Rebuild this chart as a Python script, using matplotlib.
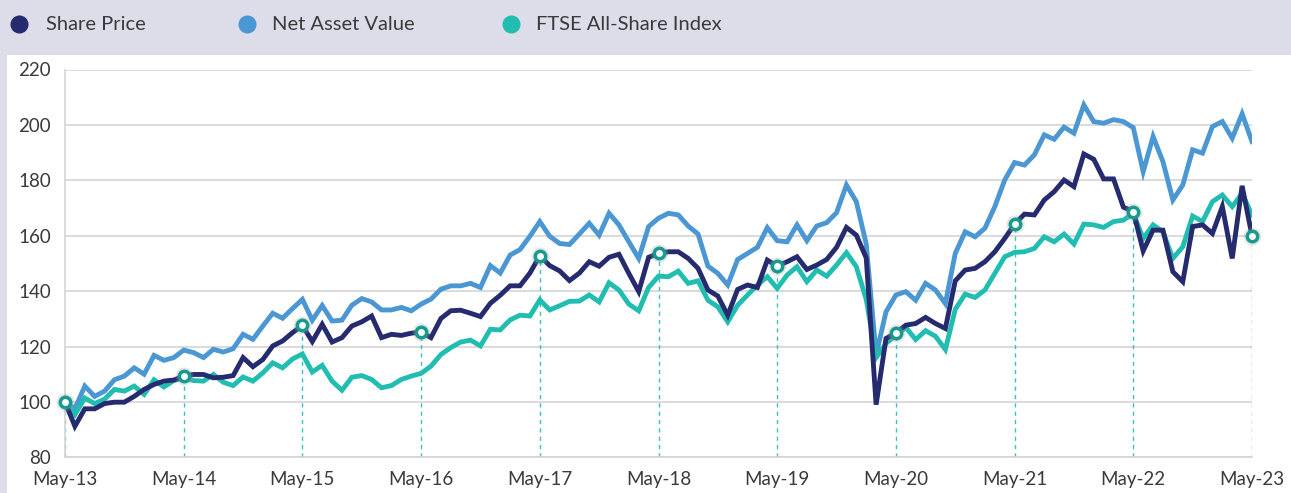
import numpy as np
import matplotlib.pyplot as plt
from matplotlib.patches import Rectangle

plt.rcParams['font.family'] = ['Lato', 'DejaVu Sans']

# monthly points, May-13 .. May-23 (rebased to 100)
months = np.arange(121)
tick_labels = ['May-13', 'May-14', 'May-15', 'May-16', 'May-17', 'May-18',
               'May-19', 'May-20', 'May-21', 'May-22', 'May-23']

share_price = [100, 91.2, 97.5, 97.5, 99.4, 99.9, 99.9, 102, 104.5, 106.3, 107.5, 107.9,
               109.3, 109.9, 109.9, 108.7, 108.9, 109.5, 116, 112.7, 115.3, 120.2, 122, 125,
               127.6, 121.8, 128, 121.6, 123.2, 127.4, 128.9, 131, 123.2, 124.4, 124, 124.8,
               125.2, 123.2, 130.1, 132.9, 133.1, 132, 130.8, 135.6, 138.5, 141.9, 141.9, 146.5,
               152.8, 149.2, 147.3, 143.8, 146.5, 150.6, 149, 152.2, 153.3, 146.4, 139.8, 152.2,
               153.6, 154.2, 154.2, 151.8, 148.2, 140.4, 138.2, 131.3, 140.6, 142.2, 141.3, 151.2,
               149, 150.6, 152.4, 147.8, 149.4, 151.4, 155.8, 163, 160.2, 152, 99, 122.9,
               124.9, 127.7, 128.3, 130.5, 128.3, 126.5, 143.7, 147.6, 148.2, 150.6, 154.2, 159,
               164.2, 167.8, 167.5, 172.9, 175.9, 180.1, 177.7, 189.5, 187.6, 180.5, 180.5, 170.3,
               168.7, 154.5, 162, 162, 147, 143.4, 163.3, 163.9, 160.8, 170.5, 151.8, 178,
               159.9]

nav = [100, 97.5, 105.7, 102, 103.9, 108, 109.3, 112.3, 110, 116.8, 115, 116,
       118.7, 117.8, 116, 119, 118, 119.2, 124.4, 122.6, 127.4, 132, 130.2, 133.7,
       137, 129.5, 134.8, 129.2, 129.5, 134.9, 137.3, 136.1, 133.2, 133.2, 134.1, 132.9,
       135.3, 137.1, 140.7, 141.9, 141.9, 142.8, 141.3, 149.2, 146.5, 153, 155, 159.8,
       165.1, 159.8, 157.2, 156.8, 160.6, 164.5, 160.2, 168.1, 163.9, 157.8, 151.8, 163.3,
       166.3, 168.1, 167.5, 163.5, 160.6, 149, 146.4, 142.2, 151.4, 153.6, 155.8, 162.9,
       158.2, 157.8, 163.9, 158.2, 163.5, 164.7, 168.3, 178.3, 172.3, 157, 117, 132.5,
       138.6, 139.8, 136.7, 142.8, 140.4, 135.5, 153.6, 161.4, 159.6, 162.7, 170.5, 180.1,
       186.4, 185.5, 189.2, 196.4, 194.8, 199.2, 197, 207.2, 201.2, 200.6, 201.9, 201.2,
       199, 183.1, 195.8, 186.7, 172.9, 178.3, 191, 189.8, 199.4, 201.2, 195.2, 204,
       194]

ftse = [100, 95.4, 101.4, 99.4, 101, 104.5, 103.9, 105.7, 102.7, 108, 105.4, 107.7,
        108.7, 107.7, 107.5, 109.9, 107.1, 105.9, 109, 107.5, 110.5, 114.1, 112.3, 115.5,
        117.3, 110.8, 113.2, 107.5, 104.2, 108.9, 109.5, 108.1, 105.1, 105.9, 108.1, 109.3,
        110.3, 112.9, 117.1, 119.6, 121.6, 122.3, 120.2, 126.2, 126, 129.6, 131.3, 131,
        136.8, 133.2, 134.7, 136.3, 136.4, 138.6, 136.1, 143, 140.4, 135.3, 132.9, 141.3,
        145.4, 145.2, 147.2, 142.8, 143.7, 136.7, 134.3, 128.9, 134.9, 138.6, 142.2, 145.2,
        141, 145.8, 148.8, 143.4, 147.6, 145.4, 149.4, 153.9, 148.8, 137, 116, 121.1,
        124.1, 126.9, 122.5, 125.7, 123.7, 118.9, 133.4, 138.9, 137.7, 140.4, 146.4, 152.4,
        154, 154.2, 155.4, 159.6, 157.8, 160.6, 157, 164.2, 163.9, 163, 165.1, 165.6,
        168.1, 159, 163.9, 161.4, 151.8, 156, 167.1, 165.1, 172.3, 174.7, 170.5, 175.3,
        167.5]

series_names = ['Share Price', 'Net Asset Value', 'FTSE All-Share Index']

navy = '#262a6e'
blue = '#4a97d3'
teal = '#22bdb1'
ring = '#179b8e'
band = '#dddde9'
text_col = '#3a3a3a'

fig = plt.figure(figsize=(12.91, 4.93), dpi=100)

# background: grey band on top and thin strip on the left
bg = fig.add_axes([0, 0, 1, 1])
bg.set_xlim(0, 1291)
bg.set_ylim(493, 0)
bg.axis('off')
bg.add_patch(Rectangle((0, 0), 1291, 55, color=band, lw=0))
bg.add_patch(Rectangle((0, 0), 7, 493, color=band, lw=0))

# legend
for cx, tx, col, name in zip([19, 247, 511], [46, 272, 536], [navy, blue, teal], series_names):
    bg.plot(cx, 24, 'o', ms=12, color=col)
    bg.text(tx, 24, name, fontsize=14.5, color=text_col, va='center', ha='left')

# main chart
ax = fig.add_axes([65 / 1291, 1 - 457.3 / 493, (1252 - 65) / 1291, (457.3 - 69.5) / 493])
ax.patch.set_visible(False)

ax.plot(months, nav, color=blue, lw=3.5, solid_joinstyle='miter', zorder=3)
ax.plot(months, ftse, color=teal, lw=3.5, solid_joinstyle='miter', zorder=3)
ax.plot(months, share_price, color=navy, lw=3.5, solid_joinstyle='miter', zorder=4)

may = months[::12]
may_sp = np.array(share_price)[::12]
ax.vlines(may, 80, may_sp, colors=teal, lw=1, linestyles=(0, (3, 3)), zorder=2, alpha=0.9)
# soft shadow behind the markers
ax.plot(may, may_sp, 'o', ms=13, color='#9aa0a0', alpha=0.25, mew=0, zorder=5, clip_on=False)
ax.plot(may, may_sp, 'o', ms=7.5, mfc='white', mec=ring, mew=2.5, zorder=6, clip_on=False)

ax.set_xlim(0, 120)
ax.set_ylim(80, 220)
ax.set_yticks(range(80, 221, 20))
ax.set_xticks(may)
ax.set_xticklabels(tick_labels)
ax.grid(axis='y', color='#d4d4d4', lw=1.2, zorder=0)
ax.tick_params(length=0, labelsize=13.5, colors=text_col)
ax.tick_params(axis='y', pad=10)
ax.tick_params(axis='x', pad=10)
for s in ['top', 'right']:
    ax.spines[s].set_visible(False)
for s in ['left', 'bottom']:
    ax.spines[s].set_color('#d4d4d4')
    ax.spines[s].set_linewidth(1.2)

fig.savefig('out.png', dpi=100)
